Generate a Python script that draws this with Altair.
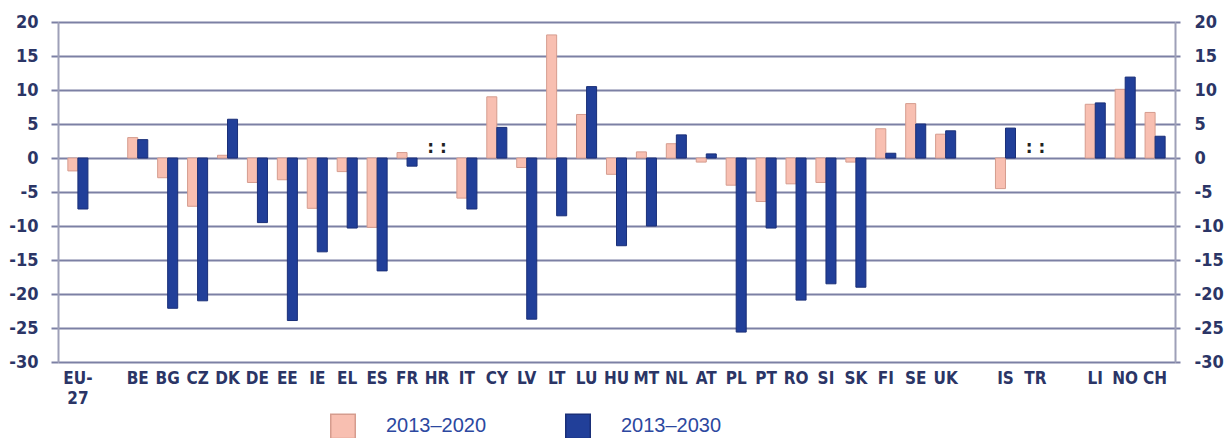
import altair as alt
import pandas as pd

categories = ["EU-27", "gap1", "BE", "BG", "CZ", "DK", "DE", "EE", "IE", "EL", "ES", "FR", "HR",
              "IT", "CY", "LV", "LT", "LU", "HU", "MT", "NL", "AT", "PL", "PT", "RO", "SI", "SK",
              "FI", "SE", "UK", "gap2", "IS", "TR", "gap3", "LI", "NO", "CH"]

countries = ["EU-27", "BE", "BG", "CZ", "DK", "DE", "EE", "IE", "EL", "ES", "FR",
             "IT", "CY", "LV", "LT", "LU", "HU", "MT", "NL", "AT", "PL", "PT", "RO", "SI", "SK",
             "FI", "SE", "UK", "IS", "LI", "NO", "CH"]
v2020 = [-1.9, 3.0, -2.9, -7.1, 0.4, -3.6, -3.2, -7.4, -2.0, -10.2, 0.8,
         -5.9, 9.0, -1.4, 18.1, 6.4, -2.4, 0.9, 2.1, -0.6, -4.0, -6.4, -3.8, -3.6, -0.6,
         4.3, 8.0, 3.5, -4.5, 7.9, 10.1, 6.7]
v2030 = [-7.5, 2.7, -22.1, -21.0, 5.7, -9.5, -23.9, -13.8, -10.3, -16.6, -1.2,
         -7.5, 4.5, -23.7, -8.5, 10.5, -12.9, -10.0, 3.4, 0.6, -25.6, -10.3, -20.9, -18.5, -19.0,
         0.7, 5.0, 4.0, 4.4, 8.1, 11.9, 3.2]
series = ["2013–2020", "2013–2030"]
not_available = ["HR", "TR"]
na_level = [1.5, 1.5]

rows = []
for c, a, b in zip(countries, v2020, v2030):
    rows.append({"country": c, "series": series[0], "value": a})
    rows.append({"country": c, "series": series[1], "value": b})
df = pd.DataFrame(rows)
na_df = pd.DataFrame({"country": not_available, "value": na_level, "mark": [": :", ": :"]})

FONT = "DejaVu Sans Condensed, Liberation Sans, sans-serif"
LABEL = "#2b3566"
GRID = "#7c80a4"
PINK = "#f8bfb1"
BLUE = "#213f99"
YLAB = "replace(datum.label, '\u2212', '-')"

x_enc = alt.X("country:N", sort=categories,
              scale=alt.Scale(domain=categories, paddingInner=0.33, paddingOuter=0.33),
              axis=alt.Axis(title=None, labelAngle=0, ticks=False, domain=False,
                            labelFont=FONT, labelFontSize=17, labelFontWeight="bold",
                            labelColor=LABEL, labelPadding=8, labelLineHeight=20,
                            labelBaseline="top",
                            labelExpr="indexof(datum.value,'gap')==0 ? '' : (datum.value=='EU-27' ? ['EU-','27'] : datum.value)"))

yscale = alt.Scale(domain=[-30, 20], nice=False, zero=False)

bars = alt.Chart(df).mark_bar(strokeWidth=1).encode(
    x=x_enc,
    xOffset=alt.XOffset("series:N", sort=series, scale=alt.Scale(domain=series, paddingInner=0)),
    y=alt.Y("value:Q", scale=yscale,
            axis=alt.Axis(title=None, values=list(range(-30, 21, 5)), orient="left",
                          grid=True, gridColor=GRID, gridWidth=2,
                          domain=True, domainColor="#9ea0b8", domainWidth=2,
                          ticks=True, tickColor=GRID, tickWidth=2, tickSize=7,
                          labelFont=FONT, labelFontSize=18, labelFontWeight="bold",
                          labelColor=LABEL, labelPadding=13, labelExpr=YLAB)),
    color=alt.Color("series:N", sort=series,
                    scale=alt.Scale(domain=series, range=[PINK, BLUE]),
                    legend=alt.Legend(title=None, orient="none", direction="horizontal",
                                      columns=2, legendX=272, legendY=391,
                                      symbolType="square", symbolSize=600,
                                      symbolStrokeColor="#4f5f9c", symbolStrokeWidth=1.5,
                                      symbolOpacity=1,
                                      labelFont="Liberation Sans", labelFontSize=20,
                                      labelColor="#2c48a0", labelOffset=30,
                                      columnPadding=75, padding=0)),
    stroke=alt.Stroke("series:N", sort=series,
                      scale=alt.Scale(domain=series, range=["#d59c8e", "#1a2f78"]),
                      legend=None),
)

na_marks = alt.Chart(na_df).mark_text(font="DejaVu Sans", fontSize=17, fontWeight="bold",
                                      color="#222222", baseline="middle").encode(
    x=alt.X("country:N", sort=categories, scale=alt.Scale(domain=categories, paddingInner=0.33, paddingOuter=0.33)),
    y=alt.Y("value:Q", scale=yscale,
            axis=alt.Axis(title=None, values=list(range(-30, 21, 5)), orient="right",
                          grid=False, domain=True, domainColor="#9ea0b8", domainWidth=2,
                          ticks=True, tickColor=GRID, tickWidth=2, tickSize=5,
                          labelFont=FONT, labelFontSize=18, labelFontWeight="bold",
                          labelColor=LABEL, labelPadding=14, labelExpr=YLAB)),
    text="mark:N",
)

chart = alt.layer(bars, na_marks).resolve_axis(y="independent").resolve_scale(y="shared").properties(
    width=1117, height=340,
    autosize=alt.AutoSizeParams(type="none"),
    padding={"left": 50, "top": 14, "right": 49, "bottom": 76},
).configure_view(stroke=None)

chart.save("out.html", embed_options={"renderer": "svg", "actions": False})
